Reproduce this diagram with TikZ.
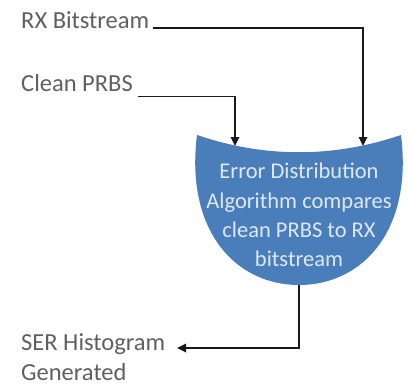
\documentclass[tikz,border=0pt]{standalone}
\usepackage{fontspec}
\setmainfont{Carlito}
\usetikzlibrary{arrows.meta}
\definecolor{bluefill}{RGB}{74,126,187}
\definecolor{labelgray}{RGB}{95,95,95}
\definecolor{innertext}{RGB}{222,232,245}
\begin{document}
\begin{tikzpicture}[x=1pt,y=1pt,
  lbl/.style={anchor=base west, inner sep=0pt, text=labelgray, align=left,
    font=\fontsize{24.5}{29.5}\selectfont},
  conn/.style={line width=1.7pt, draw=black!90},
  arr/.style={conn, -{Triangle[length=9pt,width=8.5pt]}},
  bowl/.style={fill=bluefill, draw=none},
  inner/.style={align=center, inner sep=0pt, text=innertext,
    font=\fontsize{22.5}{29.3}\selectfont}]
\useasboundingbox (0,0) rectangle (409,-385);
% labels
\node[lbl] (rx) at (21,-29) {RX Bitstream};
\node[lbl] (clean) at (21,-92) {Clean PRBS};
\node[lbl] (ser) at (21,-380) {SER Histogram\\Generated};
% bowl shape
\path[bowl] (197,-135) .. controls (265,-158) and (333,-158) .. (401,-135)
  .. controls (413,-230) and (363,-285) .. (299,-285)
  .. controls (235,-285) and (185,-230) .. (197,-135) -- cycle;
\node[inner] (algo) at (299,-215) {Error Distribution\\Algorithm compares\\clean PRBS to RX\\bitstream};
% connector end points
\coordinate (inL) at (235,-146);
\coordinate (inR) at (363,-146);
\coordinate (outB) at (299,-285);
\coordinate (serIn) at (177,-348);
% connectors
\draw[arr] ([xshift=4pt,yshift=1pt]rx.base east) -| (inR);
\draw[arr] ([xshift=5pt,yshift=-4.5pt]clean.base east) -| (inL);
\draw[arr] (outB) |- (serIn);
\end{tikzpicture}
\end{document}
